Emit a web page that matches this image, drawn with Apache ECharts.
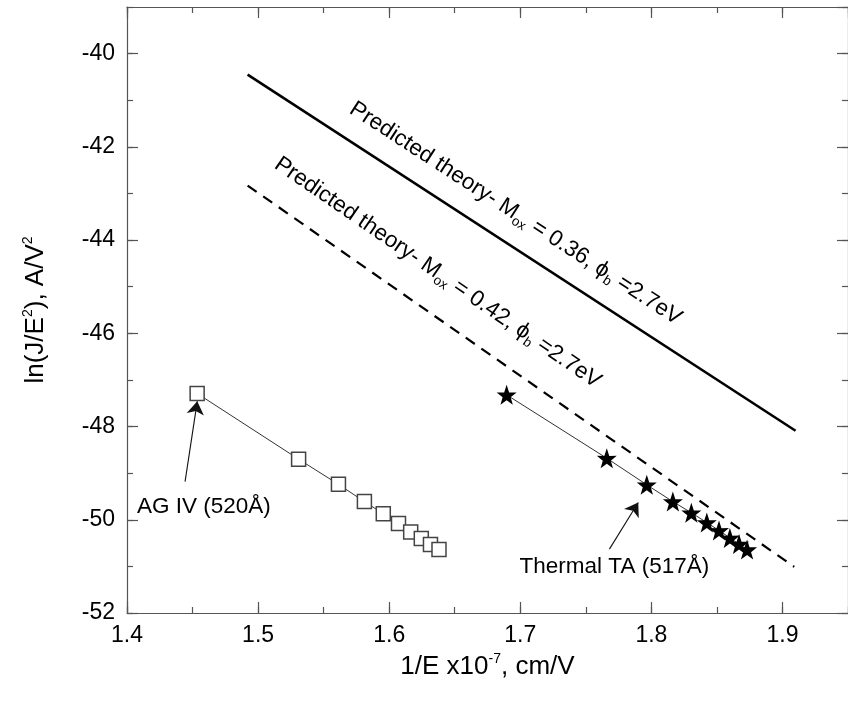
<!DOCTYPE html>
<html>
<head>
<meta charset="utf-8">
<script src="https://cdn.jsdelivr.net/npm/echarts@6/dist/echarts.min.js"></script>
<style>
  html, body { margin: 0; padding: 0; background: #fff; }
  #chart { width: 848px; height: 705px; }
</style>
</head>
<body>
<div id="chart"></div>
<script>
// AG IV (520Å) - open squares
const agX = [1.4535, 1.5309, 1.5613, 1.5811, 1.5955, 1.6071, 1.6164, 1.6245, 1.6315, 1.6380];
const agY = [-47.29, -48.70, -49.24, -49.61, -49.87, -50.08, -50.26, -50.40, -50.53, -50.64];

// Thermal TA (517Å) - filled stars
const taX = [1.6896, 1.7660, 1.7965, 1.8164, 1.8305, 1.8423, 1.8516, 1.8599, 1.8669, 1.8730];
const taY = [-47.32, -48.68, -49.25, -49.61, -49.85, -50.06, -50.23, -50.39, -50.52, -50.64];

// predicted theory lines, end points
const theory36X = [1.492, 1.91];
const theory36Y = [-40.45, -48.09];
const theory42X = [1.492, 1.909];
const theory42Y = [-42.83, -51.01];

// axis ranges / tick labels
const xTickLabels = ['1.4', '1.5', '1.6', '1.7', '1.8', '1.9'];
const yTickLabels = ['-52', '-50', '-48', '-46', '-44', '-42', '-40'];
const xRange = [1.4, 1.95];
const yRange = [-52, -39];

const zip = (xs, ys) => xs.map((x, i) => [x, ys[i]]);

const STAR = 'path://M50,0 L61.8,35.1 L97.6,34.5 L69.1,56.7 L79.4,90.5 L50,70 L20.6,90.5 L30.9,56.7 L2.4,34.5 L38.2,35.1 Z';
const AXIS_COLOR = '#555';
const TEXT_COLOR = '#000';
const FONT = '"Liberation Sans", Arial, sans-serif';

function frameAxis(pos, major, interval, tickLen, extra) {
    const isX = pos === 'bottom' || pos === 'top';
    const range = isX ? xRange : yRange;
    return Object.assign({
        type: 'value',
        position: pos,
        min: range[0],
        max: range[1],
        interval: interval,
        splitLine: {show: false},
        axisLine: {show: major, onZero: false, lineStyle: {color: AXIS_COLOR, width: 1.2}},
        axisTick: {show: true, inside: true, length: tickLen, lineStyle: {color: AXIS_COLOR, width: 1.2}},
        axisLabel: {show: false}
    }, extra || {});
}

function arrow(from, to) {
    return {
        silent: true,
        symbol: ['none', 'arrow'],
        symbolSize: 13,
        label: {show: false},
        emphasis: {disabled: true},
        lineStyle: {color: '#111', width: 1.1, type: 'solid'},
        data: [[{coord: from}, {coord: to}]]
    };
}

const chart = echarts.init(document.getElementById('chart'));

chart.setOption({
    animation: false,
    backgroundColor: '#fff',
    grid: {left: 127, top: 7, right: -9, bottom: 92, containLabel: false},
    xAxis: [
        frameAxis('bottom', true, 0.1, 11, {
            name: '1/E x10{sup|-7}, cm/V',
            nameLocation: 'middle',
            nameGap: 38,
            nameTextStyle: {
                fontFamily: FONT, fontSize: 26, color: TEXT_COLOR, lineHeight: 30,
                rich: {sup: {fontFamily: FONT, fontSize: 14, color: TEXT_COLOR, verticalAlign: 'top', lineHeight: 30}}
            },
            axisLabel: {
                show: true, margin: 11, showMaxLabel: false,
                fontFamily: FONT, fontSize: 23, color: TEXT_COLOR,
                formatter: v => xTickLabels.find(t => Math.abs(parseFloat(t) - v) < 1e-6) || ''
            }
        }),
        frameAxis('bottom', false, 0.05, 6),
        frameAxis('top', true, 0.1, 11),
        frameAxis('top', false, 0.05, 6)
    ],
    yAxis: [
        frameAxis('left', true, 2, 11, {
            name: 'ln(J/E{sup|2}), A/V{sup|2}',
            nameLocation: 'middle',
            nameGap: 76,
            nameTextStyle: {
                fontFamily: FONT, fontSize: 26, color: TEXT_COLOR, lineHeight: 30,
                rich: {sup: {fontFamily: FONT, fontSize: 14, color: TEXT_COLOR, verticalAlign: 'top', lineHeight: 30}}
            },
            axisLabel: {
                show: true, margin: 12, showMaxLabel: false,
                fontFamily: FONT, fontSize: 23, color: TEXT_COLOR,
                formatter: v => yTickLabels.find(t => Math.abs(parseFloat(t) - v) < 1e-6) || ''
            }
        }),
        frameAxis('left', false, 1, 6),
        frameAxis('right', true, 2, 11),
        frameAxis('right', false, 1, 6)
    ],
    series: [
        {
            name: 'theory 0.36',
            type: 'line',
            data: zip(theory36X, theory36Y),
            symbol: 'none',
            silent: true,
            lineStyle: {color: '#000', width: 2.6, type: 'solid'}
        },
        {
            name: 'theory 0.42',
            type: 'line',
            data: zip(theory42X, theory42Y),
            symbol: 'none',
            silent: true,
            lineStyle: {color: '#000', width: 2.2, type: [11, 8]}
        },
        {
            name: 'AG IV (520Å)',
            type: 'line',
            data: zip(agX, agY),
            symbol: 'rect',
            symbolSize: 14,
            showAllSymbol: true,
            lineStyle: {color: '#333', width: 1},
            itemStyle: {color: '#fff', borderColor: '#444', borderWidth: 1.5},
            markLine: arrow([1.4443, -49.18], [1.4536, -47.46])
        },
        {
            name: 'Thermal TA (517Å)',
            type: 'line',
            data: zip(taX, taY),
            symbol: STAR,
            symbolSize: 20,
            showAllSymbol: true,
            lineStyle: {color: '#333', width: 1},
            itemStyle: {color: '#000', borderWidth: 0},
            markLine: arrow([1.7680, -50.63], [1.7900, -49.63])
        },
        {
            name: 'annotations',
            type: 'scatter',
            silent: true,
            symbolSize: 0.1,
            itemStyle: {color: '#fff', opacity: 1},
            label: {
                show: true, position: 'inside', color: TEXT_COLOR, opacity: 1,
                textBorderWidth: 0,
                fontFamily: FONT, fontSize: 22.5, lineHeight: 28,
                formatter: p => p.data.text,
                rich: {
                    sub: {fontFamily: FONT, fontSize: 13.5, color: TEXT_COLOR, verticalAlign: 'bottom', lineHeight: 28},
                    phi: {fontFamily: FONT, fontSize: 22.5, color: TEXT_COLOR, lineHeight: 28}
                }
            },
            data: [
                {value: [1.6964, -43.43], text: 'Predicted theory- M{sub|ox} = 0.36, {phi|ϕ}{sub|b} =2.7eV', label: {rotate: -33}},
                {value: [1.6370, -44.70], text: 'Predicted theory- M{sub|ox} = 0.42, {phi|ϕ}{sub|b} =2.7eV', label: {rotate: -34.5}},
                {value: [1.4586, -49.72], text: 'AG IV (520Å)'},
                {value: [1.7718, -51.01], text: 'Thermal TA (517Å)'}
            ]
        }
    ]
});
</script>
</body>
</html>
